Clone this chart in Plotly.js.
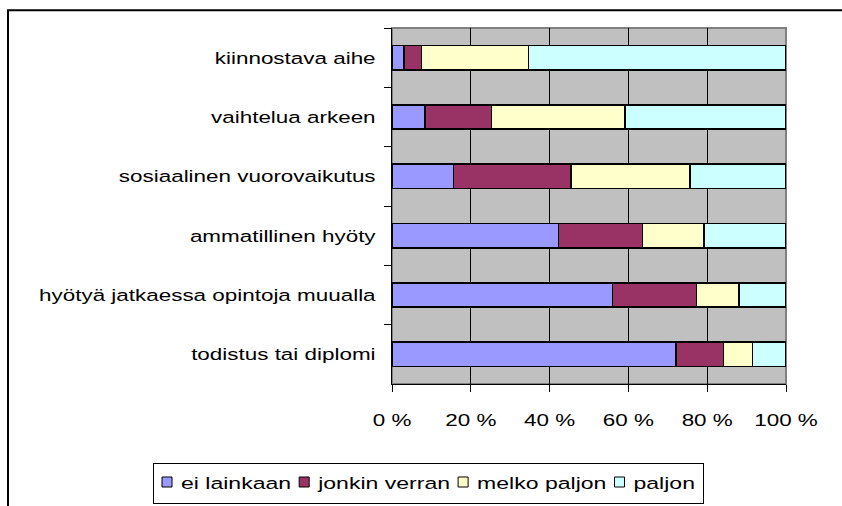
<!DOCTYPE html>
<html>
<head>
<meta charset="utf-8">
<script src="https://cdn.plot.ly/plotly-3.0.1.min.js"></script>
<style>html,body{margin:0;padding:0;background:#fff;}</style>
</head>
<body>
<div id="chart" style="width:842px;height:506px;"></div>
<script>
// Categories, top to bottom
const categories = [
  "kiinnostava aihe",
  "vaihtelua arkeen",
  "sosiaalinen vuorovaikutus",
  "ammatillinen hyöty",
  "hyötyä jatkaessa opintoja muualla",
  "todistus tai diplomi"
];
const seriesNames = ["ei lainkaan", "jonkin verran", "melko paljon", "paljon"];
const eiLainkaan   = [3.0, 8.4, 15.6, 42.2, 56.0, 72.1];
const jonkinVerran = [4.5, 16.9, 29.8, 21.4, 21.3, 12.0];
const melkoPaljon  = [27.1, 33.8, 30.2, 15.6, 10.8, 7.4];
const paljon       = [65.4, 40.9, 24.4, 20.8, 11.9, 8.5];
const xTickVals  = [0, 20, 40, 60, 80, 100];
const xTickText  = ["0 %", "20 %", "40 %", "60 %", "80 %", "100 %"];

const colors = ["#9999FF", "#993366", "#FFFFCC", "#CCFFFF"];
const seriesValues = [eiLainkaan, jonkinVerran, melkoPaljon, paljon];

const FONT = "Liberation Sans, Arial, sans-serif";
const FS = 17;
const SX = 1.32; // horizontal text stretch of the original rendering

const traces = seriesNames.map((name, i) => ({
  type: "bar",
  orientation: "h",
  name: name,
  y: categories,
  x: seriesValues[i],
  marker: { color: colors[i], line: { color: "#000", width: 1.5 } },
  hoverinfo: "x+name"
}));

const L = 392, R = 786, T = 28, B = 390, W = 842, H = 506;
const pw = R - L, ph = B - T;
const px = v => (v - L) / pw;
const py = v => (B - v) / ph;

const layout = {
  width: W, height: H,
  margin: { l: L, r: W - R, t: T, b: H - B, pad: 0 },
  paper_bgcolor: "#fff",
  plot_bgcolor: "#C0C0C0",
  barmode: "stack",
  bargap: 0.59,
  font: { family: FONT, size: FS, color: "#000" },
  showlegend: true,
  legend: {
    orientation: "h",
    traceorder: "normal",
    x: px(153), y: py(463), xanchor: "left", yanchor: "top",
    bgcolor: "#fff", bordercolor: "#000", borderwidth: 1,
    font: { family: FONT, size: FS, color: "#000" },
    itemwidth: 30
  },
  xaxis: {
    range: [0, 100], tickmode: "array", tickvals: xTickVals, ticktext: xTickText,
    showgrid: true, gridcolor: "#000", gridwidth: 1,
    showline: true, linecolor: "#000", linewidth: 1,
    ticks: "outside", ticklen: 7, tickcolor: "#000", tickwidth: 1,
    ticklabelstandoff: 14,
    zeroline: false, fixedrange: true,
    tickfont: { family: FONT, size: FS, color: "#000" }
  },
  yaxis: {
    type: "category", autorange: "reversed",
    tickson: "boundaries",
    showgrid: false,
    showline: true, linecolor: "#000", linewidth: 1,
    ticks: "outside", ticklen: 7, tickcolor: "#000", tickwidth: 1,
    ticklabelstandoff: 12,
    zeroline: false, fixedrange: true,
    tickfont: { family: FONT, size: FS, color: "#000" }
  },
  shapes: [
    { type: "rect", xref: "paper", yref: "paper", layer: "below",
      x0: 0, x1: 1, y0: 0, y1: 1, line: { color: "#808080", width: 2 } },
    { type: "rect", xref: "paper", yref: "paper", layer: "above",
      x0: px(8), x1: px(900), y0: py(560), y1: py(10),
      line: { color: "#000", width: 2 }, fillcolor: "rgba(0,0,0,0)" }
  ]
};

function stretchText(t, s) {
  const x = parseFloat(t.getAttribute("x")) || 0;
  const tr = t.getAttribute("transform") || "";
  t.setAttribute("transform", tr + " translate(" + (x * (1 - s)) + ",0) scale(" + s + ",1)");
}

Plotly.newPlot("chart", traces, layout, { displayModeBar: false, staticPlot: true }).then(gd => {
  gd.querySelectorAll(".ytick text").forEach(t => stretchText(t, SX));
  gd.querySelectorAll(".xtick text").forEach(t => stretchText(t, SX));

  // Legend: compact Excel-like layout
  const leg = gd.querySelector(".legend");
  if (!leg) return;
  const LX = 153, LY = 463, LW = 551, LH = 41;
  leg.setAttribute("transform", "translate(" + LX + "," + LY + ")");
  const bg = leg.querySelector("rect.bg");
  if (bg) {
    bg.setAttribute("x", 0.5); bg.setAttribute("y", 0.5);
    bg.setAttribute("width", LW - 1); bg.setAttribute("height", LH - 1);
  }
  const sb = leg.querySelector(".scrollbox");
  if (sb) { sb.removeAttribute("clip-path"); sb.setAttribute("transform", ""); }
  const items = Array.from(leg.querySelectorAll("g.traces"));
  const SQ = 10, GAP_TXT = 9, GAP_ITEM = 8, PADL = 9, PADR = 9;
  const widths = items.map(g => {
    const t = g.querySelector("text.legendtext");
    return t ? t.getComputedTextLength() : 0;
  });
  const sum = widths.reduce((a, b) => a + b, 0);
  const avail = LW - PADL - PADR - items.length * (SQ + GAP_TXT) - (items.length - 1) * GAP_ITEM;
  const sL = sum > 0 ? avail / sum : 1;
  let cur = PADL;
  const cy = 482 - LY;
  items.forEach((g, i) => {
    g.setAttribute("transform", "translate(0," + cy + ")");
    const p = g.querySelector(".legendpoints path");
    if (p) {
      p.setAttribute("d", "M5,5H-5V-5H5Z");
      p.setAttribute("transform", "translate(" + (cur + SQ / 2) + ",0)");
      p.style.strokeWidth = "1px";
    }
    const t = g.querySelector("text.legendtext");
    const tx = cur + SQ + GAP_TXT;
    if (t) {
      t.setAttribute("x", tx);
      stretchText(t, sL);
    }
    const tog = g.querySelector("rect.legendtoggle");
    if (tog) tog.setAttribute("x", cur);
    cur = tx + widths[i] * sL + GAP_ITEM;
  });
});
</script>
</body>
</html>
